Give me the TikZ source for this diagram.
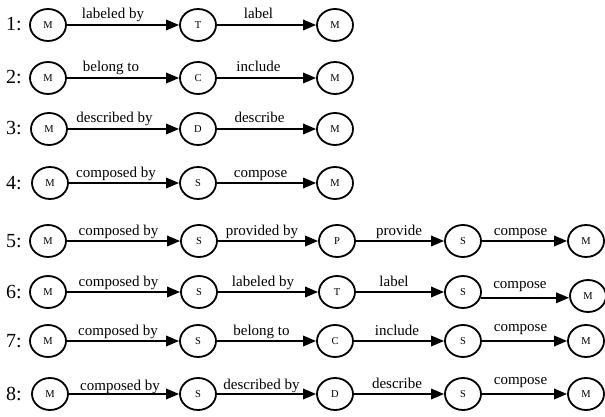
\documentclass[tikz,border=0pt]{standalone}
\usepackage{fontspec}
\setmainfont{Liberation Serif}
\usetikzlibrary{arrows.meta,shapes.geometric}
\tikzset{
  ent/.style={ellipse, draw, line width=1.8pt, minimum width=36pt, minimum height=32pt, inner sep=0pt, font=\fontsize{10.5}{12}\selectfont},
  arr/.style={line width=1.8pt, -{Triangle[length=13pt,width=10.5pt]}},
  lab/.style={anchor=base, inner sep=0pt, yshift=6pt, font=\fontsize{15}{17}\selectfont},
  num/.style={anchor=base, inner sep=0pt, font=\fontsize{20}{22}\selectfont},
}
\begin{document}
\begin{tikzpicture}[x=1pt,y=-1pt]
\useasboundingbox (0,0) rectangle (605,417);
% row numbers
\foreach \n/\yy in {1/25,2/78,3/129,4/183,5/241,6/292,7/341,8/394}{
  \node[num] (n\n) at (14,\yy+6) {\n:};
}
% Row 1
\node[ent] (a1) at (48,25) {M};
\node[ent] (b1) at (198,25) {T};
\node[ent] (c1) at (335,25) {M};
\draw[arr] (a1) -- node[lab,xshift=-10pt] {labeled by} (b1);
\draw[arr] (b1) -- node[lab,xshift=-8pt] {label} (c1);
% Row 2
\node[ent] (a2) at (48,78) {M};
\node[ent] (b2) at (198,78) {C};
\node[ent] (c2) at (335,78) {M};
\draw[arr] (a2) -- node[lab,xshift=-12pt] {belong to} (b2);
\draw[arr] (b2) -- node[lab,xshift=-8pt] {include} (c2);
% Row 3
\node[ent] (a3) at (49,129) {M};
\node[ent] (b3) at (198,129) {D};
\node[ent] (c3) at (335,129) {M};
\draw[arr] (a3) -- node[lab,xshift=-9pt] {described by} (b3);
\draw[arr] (b3) -- node[lab,xshift=-7pt] {describe} (c3);
% Row 4
\node[ent] (a4) at (50,183) {M};
\node[ent] (b4) at (198,183) {S};
\node[ent] (c4) at (335,183) {M};
\draw[arr] (a4) -- node[lab,xshift=-8pt] {composed by} (b4);
\draw[arr] (b4) -- node[lab,xshift=-6pt] {compose} (c4);
% Row 5
\node[ent] (a5) at (48,241) {M};
\node[ent] (b5) at (199,241) {S};
\node[ent] (c5) at (337,241) {P};
\node[ent] (d5) at (463,241) {S};
\node[ent] (e5) at (586,241) {M};
\draw[arr] (a5) -- node[lab,xshift=-5pt] {composed by} (b5);
\draw[arr] (b5) -- node[lab,xshift=-6pt] {provided by} (c5);
\draw[arr] (c5) -- node[lab,xshift=-1pt] {provide} (d5);
\draw[arr] (d5) -- node[lab,xshift=-4pt] {compose} (e5);
% Row 6
\node[ent] (a6) at (48,292) {M};
\node[ent] (b6) at (199,292) {S};
\node[ent] (c6) at (337,292) {T};
\node[ent] (d6) at (463,292) {S};
\node[ent] (e6) at (588,296) {M};
\draw[arr] (a6) -- node[lab,xshift=-5pt] {composed by} (b6);
\draw[arr] (b6) -- node[lab,xshift=-5pt] {labeled by} (c6);
\draw[arr] (c6) -- node[lab,xshift=-6pt] {label} (d6);
\draw[arr] (d6.-18) -- node[lab,xshift=-5pt,yshift=3pt] {compose} (d6.-18 -| e6.west);
% Row 7
\node[ent] (a7) at (48,341) {M};
\node[ent] (b7) at (198,341) {S};
\node[ent] (c7) at (335,341) {C};
\node[ent] (d7) at (463,341) {S};
\node[ent] (e7) at (586,341) {M};
\draw[arr] (a7) -- node[lab,xshift=-5pt] {composed by} (b7);
\draw[arr] (b7) -- node[lab,xshift=-5pt] {belong to} (c7);
\draw[arr] (c7) -- node[lab,xshift=-2pt] {include} (d7);
\draw[arr] (d7) -- node[lab,xshift=-4pt,yshift=4pt] {compose} (e7);
% Row 8
\node[ent] (a8) at (50,394) {M};
\node[ent] (b8) at (198,394) {S};
\node[ent] (c8) at (335,394) {D};
\node[ent] (d8) at (463,394) {S};
\node[ent] (e8) at (586,394) {M};
\draw[arr] (a8) -- node[lab,xshift=-4pt,yshift=-2pt] {composed by} (b8);
\draw[arr] (b8) -- node[lab,xshift=-5pt,yshift=-1pt] {described by} (c8);
\draw[arr] (c8) -- node[lab,xshift=-2pt] {describe} (d8);
\draw[arr] (d8) -- node[lab,xshift=-4pt,yshift=4pt] {compose} (e8);
\end{tikzpicture}
\end{document}
